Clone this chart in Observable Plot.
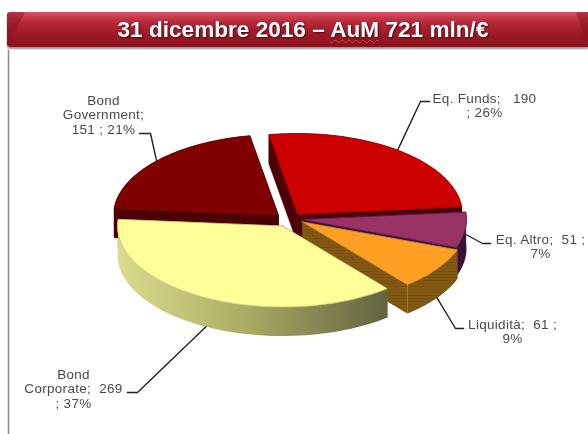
<!DOCTYPE html>
<html>
<head>
<meta charset="utf-8">
<script src="https://cdn.jsdelivr.net/npm/d3@7"></script>
<script src="https://cdn.jsdelivr.net/npm/@observablehq/plot@0.6"></script>
<style>
  html, body { margin: 0; padding: 0; background: #fff; overflow: hidden; }
  #head { position: relative; width: 588px; height: 50px; }
  #bar { position: absolute; left: 7px; top: 12px; right: 0; height: 35px;
    border-radius: 3px 0 0 3px; overflow: hidden;
    background: linear-gradient(#dc5466 0, #cf4456 3px, #b42636 11px, #9a1826 24px, #8a141e 35px);
    box-shadow: 0 2px 2px rgba(90,90,90,.65);
    color: #fff; font: bold 22.6px "Liberation Sans", Arial, sans-serif;
    text-align: center; line-height: 35px; text-shadow: 1px 1px 2px rgba(60,0,0,.8);
    padding-left: 11px; box-sizing: border-box; white-space: nowrap; }
  #bar span { text-decoration: underline wavy #e04848 1px; text-underline-offset: 2px; }
  #bar::before, #bar::after { content: ""; position: absolute; top: 0; width: 18px; height: 100%;
    background: rgba(130,15,30,.45); }
  #bar::before { left: 0; clip-path: polygon(0 0, 100% 0, 0 100%); }
  #bar::after { right: 0; width: 12px; clip-path: polygon(0 0, 100% 0, 100% 100%); }
  #head, #chart { filter: blur(0.45px); }
  #chart svg { display: block; }
</style>
</head>
<body>
<div id="head"><div id="bar">31 dicembre 2016 – <span>AuM</span> 721 mln/€</div></div>
<div id="chart"></div>
<script>
const categories = ["Eq. Funds", "Eq. Altro", "Liquidità", "Bond Corporate", "Bond Government"];
const values = [190, 51, 61, 269, 151];
const percents = [26, 7, 9, 37, 21];
const labelLines = [
  "Eq. Funds;\u00a0\u00a0\u00a0190\n; 26%",
  "Eq. Altro;\u00a0\u00a051 ;\n7%",
  "Liquidità;\u00a0\u00a061 ;\n9%",
  "Bond\nCorporate;\u00a0\u00a0269\n; 37%",
  "Bond\nGovernment;\n151 ; 21%"
];
const topColors = ["#cc0000", "#993366", "#ff9f24", "#ffff99", "#800000"];
const wallColors = ["#4d0006", "#3a0f3c", "#7d5210", "#6b6b40", "#4a0005"];
const edgeColors = ["#8a0000", "#5a1a50", "#d08a28", "#c8c880", "#5a0000"];

// layout of the exploded 3-D pie, in plot units
const pie = {rx: 165, ry: 81, depth: 29, start: -100};
const centers = [[297, 214], [301, 219], [302, 221.5], [282, 225.5], [278, 215]];
const outerFill = ["#4d0006", "#3a0f3c", "url(#hatch)", "url(#sideGrad)", "#4a0005"];
const leaderDrop = [0, 4, 29, 29, 0];
const elbows = [[420, 101], [482, 243], [455, 328], [137, 392], [150, 133]];
const leaderEnds = [[429, 101], [490, 243], [463, 328], [127, 392], [139, 133]];
const labelAt = [[484, 105], [540, 246], [512, 331], [73, 388], [103, 114]];

const total = d3.sum(values);
let running = pie.start;
const slices = categories.map((name, i) => {
  const a0 = running;
  const a1 = running + (values[i] / total) * 360;
  running = a1;
  return {name, i, a0, a1, mid: (a0 + a1) / 2, c: centers[i]};
});

const rad = (a) => (a * Math.PI) / 180;
const rim = (s, a, z = 0) => ({
  x: s.c[0] + pie.rx * Math.cos(rad(a)),
  y: s.c[1] + pie.ry * Math.sin(rad(a)) + z
});
const arcPts = (s, z = 0) => d3.range(0, 61).map((k) => rim(s, s.a0 + ((s.a1 - s.a0) * k) / 60, z));
const hub = (s, z = 0) => ({x: s.c[0], y: s.c[1] + z});

const face = (pts, fill, stroke = fill, strokeWidth = 0.5) =>
  Plot.line([...pts, pts[0]], {x: "x", y: "y", fill, stroke, strokeWidth});

const defs = () => {
  const d = d3.create("svg:defs");
  const g = d.append("linearGradient").attr("id", "sideGrad")
    .attr("gradientUnits", "userSpaceOnUse")
    .attr("x1", 116).attr("x2", 389).attr("y1", 0).attr("y2", 0);
  g.append("stop").attr("offset", 0).attr("stop-color", "#dcdc90");
  g.append("stop").attr("offset", 0.45).attr("stop-color", "#aeae66");
  g.append("stop").attr("offset", 1).attr("stop-color", "#626240");
  const p = d.append("pattern").attr("id", "hatch").attr("patternUnits", "userSpaceOnUse")
    .attr("width", 6).attr("height", 3);
  p.append("rect").attr("width", 6).attr("height", 3).attr("fill", "#7a500e");
  p.append("rect").attr("width", 6).attr("height", 1).attr("fill", "#8c6018");
  return d.node();
};

const marks = [defs];
marks.push(Plot.ruleX([8], {y1: 50, y2: 434, stroke: "#8a8a8a", strokeWidth: 1.5}));

const drawOrder = [4, 0, 1, 2, 3];
for (const i of drawOrder) {
  const s = slices[i];
  const cutFill = i === 2 ? "url(#hatch)" : wallColors[i];
  for (const a of [s.a0, s.a1]) {
    marks.push(face([hub(s), rim(s, a), rim(s, a, pie.depth), hub(s, pie.depth)], cutFill, cutFill === wallColors[i] ? cutFill : "none"));
  }
  marks.push(face([...arcPts(s), ...arcPts(s, pie.depth).reverse()], outerFill[i], "none"));
  marks.push(face([hub(s), ...arcPts(s)], topColors[i], edgeColors[i], 0.8));
}

// leader lines: from the middle of each slice rim, through an elbow, to its label
slices.forEach((s, i) => {
  const pts = [rim(s, s.mid, leaderDrop[i]),
    {x: elbows[i][0], y: elbows[i][1]},
    {x: leaderEnds[i][0], y: leaderEnds[i][1]}];
  marks.push(Plot.line(pts, {x: "x", y: "y", stroke: "#222", strokeWidth: 1.4}));
});

marks.push(Plot.text(labelLines, {
  x: (d, i) => labelAt[i][0],
  y: (d, i) => labelAt[i][1],
  text: (d) => d,
  fontSize: 13.5,
  lineHeight: 1.08,
  fill: "#4a4a4a",
  fontFamily: "Liberation Sans, Arial, sans-serif",
  textAnchor: "middle"
}));

const chart = Plot.plot({
  width: 588,
  height: 384,
  margin: 0,
  style: {background: "#fff", letterSpacing: "0.3px"},
  x: {domain: [0, 588], range: [0, 588], axis: null},
  y: {domain: [50, 434], range: [0, 384], axis: null},
  marks
});
document.getElementById("chart").append(chart);
</script>
</body>
</html>
